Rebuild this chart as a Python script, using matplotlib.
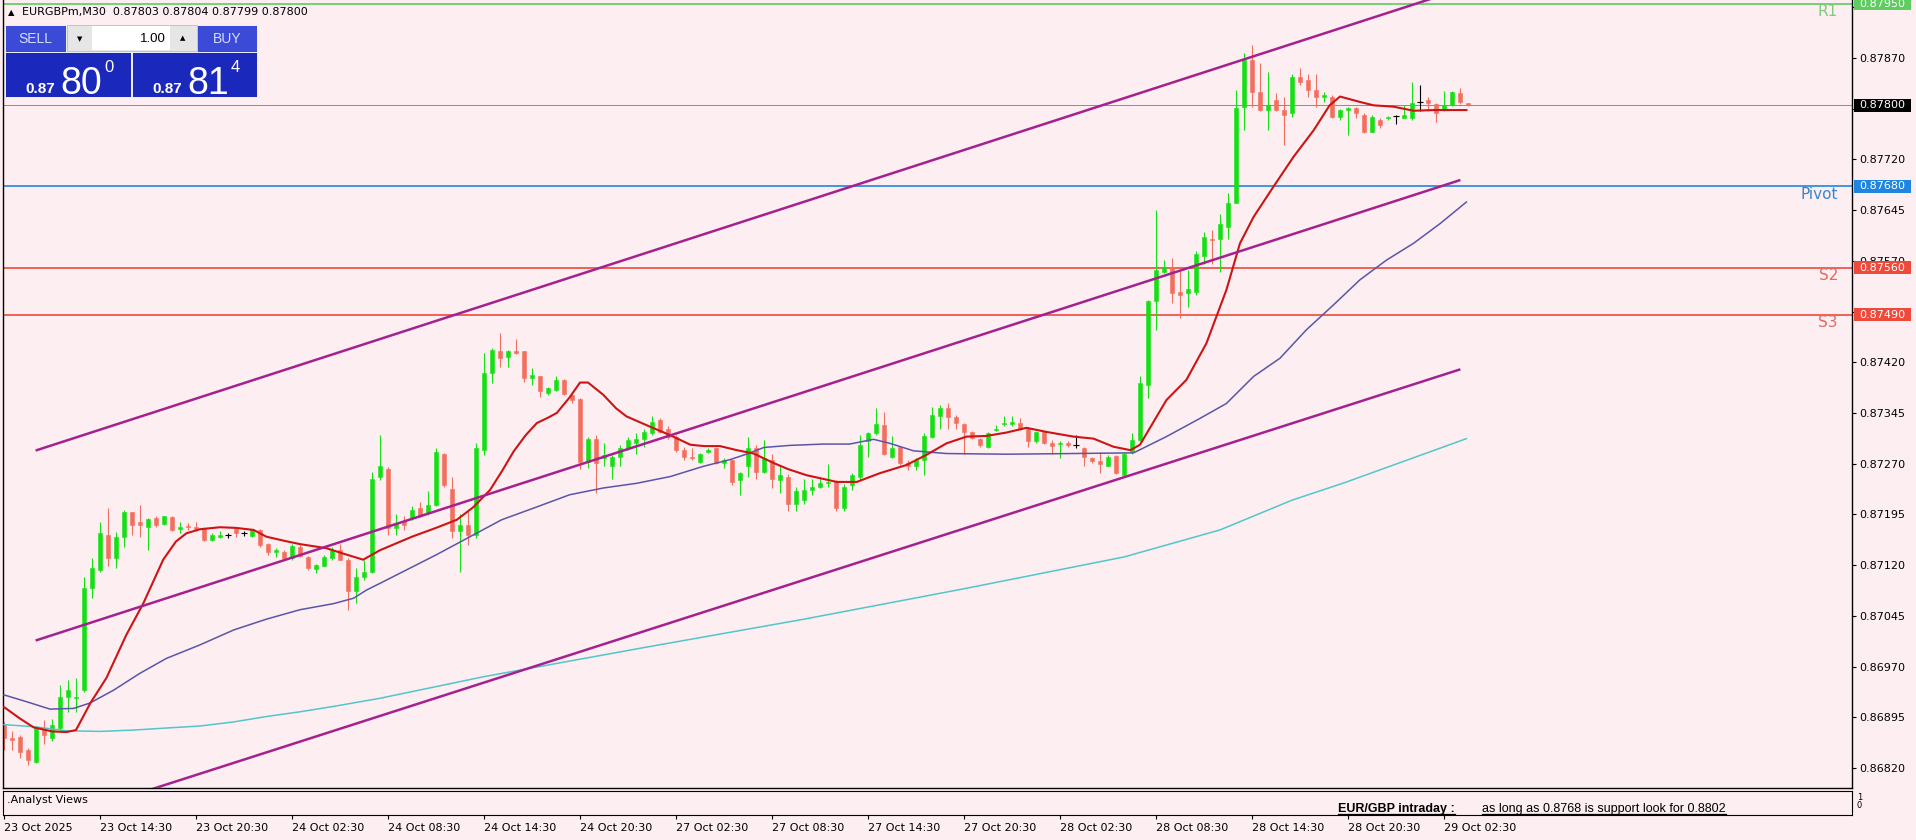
import numpy as np
import matplotlib
matplotlib.use('Agg')
import matplotlib.pyplot as plt
from matplotlib.patches import Rectangle

plt.rcParams['font.family'] = ['DejaVu Sans']

# EURGBPm M30 candles, 23 Oct 08:30 -> 29 Oct 04:00
opens = [0.86884, 0.86864, 0.86866, 0.86847, 0.86829, 0.86877, 0.86864, 0.86879, 0.86925, 0.86923,
         0.86935, 0.87086, 0.87113, 0.87165, 0.87130, 0.87162, 0.87198, 0.87183, 0.87177, 0.87190,
         0.87181, 0.87191, 0.87173, 0.87178, 0.87177, 0.87174, 0.87157, 0.87162, 0.87165, 0.87174,
         0.87167, 0.87163, 0.87172, 0.87151, 0.87140, 0.87140, 0.87130, 0.87147, 0.87132, 0.87114,
         0.87119, 0.87130, 0.87142, 0.87128, 0.87081, 0.87102, 0.87110, 0.87251, 0.87262, 0.87175,
         0.87185, 0.87189, 0.87204, 0.87197, 0.87209, 0.87285, 0.87233, 0.87170, 0.87180, 0.87165,
         0.87290, 0.87404, 0.87436, 0.87428, 0.87436, 0.87436, 0.87396, 0.87399, 0.87374, 0.87379,
         0.87394, 0.87372, 0.87365, 0.87272, 0.87307, 0.87278, 0.87266, 0.87280, 0.87293, 0.87300,
         0.87307, 0.87315, 0.87335, 0.87322, 0.87310, 0.87290, 0.87280, 0.87273, 0.87288, 0.87293,
         0.87271, 0.87276, 0.87246, 0.87266, 0.87293, 0.87258, 0.87276, 0.87246, 0.87251, 0.87210,
         0.87216, 0.87231, 0.87235, 0.87242, 0.87245, 0.87205, 0.87238, 0.87251, 0.87303, 0.87315,
         0.87327, 0.87280, 0.87294, 0.87271, 0.87266, 0.87275, 0.87310, 0.87340, 0.87353, 0.87339,
         0.87329, 0.87317, 0.87306, 0.87295, 0.87320, 0.87329, 0.87329, 0.87330, 0.87322, 0.87303,
         0.87317, 0.87301, 0.87299, 0.87300, 0.87297, 0.87293, 0.87279, 0.87274, 0.87267, 0.87281,
         0.87253, 0.87288, 0.87305, 0.87386, 0.87510, 0.87554, 0.87561, 0.87524, 0.87522, 0.87524,
         0.87577, 0.87603, 0.87602, 0.87620, 0.87656, 0.87798, 0.87867, 0.87820, 0.87793, 0.87808,
         0.87793, 0.87788, 0.87842, 0.87837, 0.87823, 0.87813, 0.87813, 0.87783, 0.87793, 0.87796,
         0.87786, 0.87761, 0.87778, 0.87781, 0.87784, 0.87782, 0.87781, 0.87805, 0.87808, 0.87802,
         0.87793, 0.87800, 0.87818, 0.87803]
highs = [0.86888, 0.86874, 0.86869, 0.86849, 0.86881, 0.86891, 0.86893, 0.86943, 0.86950, 0.86953,
         0.87103, 0.87130, 0.87184, 0.87204, 0.87169, 0.87201, 0.87199, 0.87209, 0.87189, 0.87192,
         0.87193, 0.87192, 0.87184, 0.87182, 0.87183, 0.87177, 0.87167, 0.87171, 0.87167, 0.87177,
         0.87171, 0.87174, 0.87174, 0.87153, 0.87145, 0.87142, 0.87151, 0.87150, 0.87133, 0.87122,
         0.87135, 0.87147, 0.87151, 0.87130, 0.87115, 0.87127, 0.87258, 0.87312, 0.87265, 0.87195,
         0.87192, 0.87208, 0.87214, 0.87229, 0.87293, 0.87286, 0.87251, 0.87195, 0.87200, 0.87300,
         0.87433, 0.87441, 0.87463, 0.87438, 0.87455, 0.87437, 0.87411, 0.87400, 0.87384, 0.87399,
         0.87395, 0.87373, 0.87367, 0.87310, 0.87312, 0.87300, 0.87283, 0.87298, 0.87310, 0.87315,
         0.87322, 0.87340, 0.87337, 0.87325, 0.87312, 0.87295, 0.87293, 0.87286, 0.87293, 0.87294,
         0.87278, 0.87277, 0.87258, 0.87310, 0.87298, 0.87305, 0.87285, 0.87268, 0.87255, 0.87236,
         0.87248, 0.87248, 0.87251, 0.87270, 0.87246, 0.87240, 0.87256, 0.87312, 0.87317, 0.87352,
         0.87347, 0.87311, 0.87295, 0.87276, 0.87278, 0.87315, 0.87354, 0.87357, 0.87359, 0.87342,
         0.87330, 0.87319, 0.87308, 0.87317, 0.87327, 0.87340, 0.87340, 0.87337, 0.87324, 0.87318,
         0.87318, 0.87305, 0.87303, 0.87303, 0.87312, 0.87295, 0.87280, 0.87288, 0.87283, 0.87283,
         0.87288, 0.87316, 0.87399, 0.87512, 0.87645, 0.87571, 0.87574, 0.87556, 0.87556, 0.87584,
         0.87613, 0.87616, 0.87640, 0.87670, 0.87823, 0.87877, 0.87889, 0.87862, 0.87850, 0.87818,
         0.87813, 0.87847, 0.87855, 0.87847, 0.87847, 0.87820, 0.87815, 0.87795, 0.87798, 0.87797,
         0.87788, 0.87786, 0.87781, 0.87784, 0.87786, 0.87800, 0.87835, 0.87830, 0.87813, 0.87804,
         0.87821, 0.87821, 0.87825, 0.87804]
lows = [0.86847, 0.86847, 0.86834, 0.86824, 0.86827, 0.86856, 0.86860, 0.86876, 0.86903, 0.86903,
        0.86933, 0.87071, 0.87110, 0.87118, 0.87115, 0.87147, 0.87165, 0.87162, 0.87142, 0.87177,
        0.87179, 0.87171, 0.87167, 0.87172, 0.87171, 0.87155, 0.87155, 0.87160, 0.87160, 0.87161,
        0.87163, 0.87161, 0.87147, 0.87135, 0.87132, 0.87128, 0.87128, 0.87132, 0.87113, 0.87108,
        0.87118, 0.87128, 0.87128, 0.87054, 0.87064, 0.87098, 0.87108, 0.87246, 0.87165, 0.87165,
        0.87172, 0.87187, 0.87191, 0.87194, 0.87207, 0.87236, 0.87160, 0.87110, 0.87150, 0.87160,
        0.87283, 0.87389, 0.87413, 0.87413, 0.87432, 0.87391, 0.87386, 0.87369, 0.87372, 0.87378,
        0.87372, 0.87360, 0.87262, 0.87263, 0.87226, 0.87266, 0.87248, 0.87266, 0.87290, 0.87285,
        0.87295, 0.87312, 0.87315, 0.87307, 0.87288, 0.87275, 0.87275, 0.87271, 0.87286, 0.87270,
        0.87263, 0.87238, 0.87224, 0.87251, 0.87248, 0.87256, 0.87234, 0.87226, 0.87200, 0.87200,
        0.87211, 0.87224, 0.87234, 0.87236, 0.87200, 0.87200, 0.87231, 0.87246, 0.87280, 0.87312,
        0.87283, 0.87278, 0.87268, 0.87261, 0.87261, 0.87253, 0.87308, 0.87322, 0.87322, 0.87322,
        0.87285, 0.87306, 0.87295, 0.87293, 0.87318, 0.87325, 0.87325, 0.87320, 0.87295, 0.87301,
        0.87299, 0.87285, 0.87278, 0.87295, 0.87293, 0.87266, 0.87271, 0.87256, 0.87266, 0.87255,
        0.87251, 0.87285, 0.87303, 0.87367, 0.87468, 0.87552, 0.87507, 0.87485, 0.87502, 0.87519,
        0.87566, 0.87566, 0.87554, 0.87603, 0.87655, 0.87764, 0.87798, 0.87791, 0.87764, 0.87791,
        0.87741, 0.87783, 0.87830, 0.87813, 0.87798, 0.87805, 0.87781, 0.87778, 0.87756, 0.87781,
        0.87759, 0.87761, 0.87767, 0.87779, 0.87773, 0.87781, 0.87778, 0.87791, 0.87791, 0.87776,
        0.87791, 0.87799, 0.87802, 0.87799]
closes = [0.86864, 0.86862, 0.86844, 0.86832, 0.86879, 0.86869, 0.86884, 0.86925, 0.86935, 0.86925,
          0.87086, 0.87115, 0.87167, 0.87130, 0.87162, 0.87199, 0.87179, 0.87179, 0.87188, 0.87179,
          0.87192, 0.87172, 0.87177, 0.87176, 0.87173, 0.87157, 0.87165, 0.87165, 0.87165, 0.87167,
          0.87167, 0.87172, 0.87150, 0.87140, 0.87142, 0.87130, 0.87148, 0.87133, 0.87115, 0.87120,
          0.87132, 0.87143, 0.87128, 0.87081, 0.87103, 0.87110, 0.87248, 0.87266, 0.87175, 0.87182,
          0.87180, 0.87201, 0.87192, 0.87209, 0.87288, 0.87238, 0.87170, 0.87180, 0.87165, 0.87293,
          0.87404, 0.87438, 0.87427, 0.87436, 0.87433, 0.87396, 0.87401, 0.87377, 0.87382, 0.87394,
          0.87373, 0.87364, 0.87272, 0.87307, 0.87271, 0.87283, 0.87280, 0.87293, 0.87305, 0.87307,
          0.87317, 0.87332, 0.87317, 0.87310, 0.87290, 0.87280, 0.87278, 0.87285, 0.87290, 0.87271,
          0.87276, 0.87243, 0.87256, 0.87293, 0.87258, 0.87278, 0.87248, 0.87253, 0.87210, 0.87229,
          0.87231, 0.87235, 0.87242, 0.87243, 0.87205, 0.87236, 0.87253, 0.87298, 0.87315, 0.87328,
          0.87285, 0.87293, 0.87271, 0.87266, 0.87276, 0.87311, 0.87342, 0.87352, 0.87339, 0.87330,
          0.87317, 0.87308, 0.87298, 0.87316, 0.87322, 0.87330, 0.87331, 0.87322, 0.87303, 0.87317,
          0.87300, 0.87296, 0.87300, 0.87297, 0.87297, 0.87280, 0.87274, 0.87270, 0.87280, 0.87256,
          0.87285, 0.87305, 0.87389, 0.87510, 0.87556, 0.87560, 0.87522, 0.87519, 0.87528, 0.87580,
          0.87605, 0.87601, 0.87624, 0.87655, 0.87796, 0.87867, 0.87820, 0.87793, 0.87800, 0.87793,
          0.87786, 0.87842, 0.87835, 0.87823, 0.87813, 0.87815, 0.87783, 0.87793, 0.87796, 0.87788,
          0.87761, 0.87783, 0.87771, 0.87783, 0.87784, 0.87786, 0.87803, 0.87805, 0.87803, 0.87789,
          0.87800, 0.87819, 0.87805, 0.87800]

# moving averages, sampled along the drawn lines (bar index, price)
fast_idx = [0, 2, 3.7, 6, 7.8, 9, 10.8, 12.8, 15.3, 17.4, 19.9, 21.5, 22.8, 24.5, 27, 29, 31.2, 32.8,
            35, 37, 40.3, 42.4, 44.9, 47, 49, 51, 54, 56.6, 58.7, 60.75, 62.3, 63.7, 65.2, 66.6, 68,
            69.1, 70.7, 72, 73, 74.9, 76.5, 77.8, 80.7, 83.3, 85.8, 87.5, 89.5, 91.6, 93.7, 96.2, 98,
            100.3, 104.1, 106.6, 109.5, 112.8, 115.3, 117.8, 120.3, 122.8, 125.3, 127.8, 130.3, 133.7,
            136.2, 138.7, 140.8, 142, 143.7, 145.3, 147.8, 150.3, 152.8, 154.5, 156.2, 158.7, 161.2,
            163.7, 165.7, 167, 169.5, 171.2, 173.7, 176.2, 178.7, 180.75, 182.8]
fast_ma = [0.86910, 0.86893, 0.86880, 0.86874, 0.86873, 0.86876, 0.86916, 0.86953, 0.87017, 0.87063,
           0.87128, 0.87155, 0.87167, 0.87173, 0.87176, 0.87175, 0.87172, 0.87162, 0.87156, 0.87151,
           0.87145, 0.87137, 0.87128, 0.87142, 0.87152, 0.87162, 0.87175, 0.87187, 0.87206, 0.87231,
           0.87260, 0.87288, 0.87312, 0.87330, 0.87338, 0.87345, 0.87368, 0.87390, 0.87390, 0.87372,
           0.87352, 0.87340, 0.87325, 0.87312, 0.87298, 0.87296, 0.87296, 0.87290, 0.87285, 0.87271,
           0.87262, 0.87253, 0.87243, 0.87243, 0.87256, 0.87268, 0.87283, 0.87300, 0.87310, 0.87311,
           0.87316, 0.87323, 0.87317, 0.87310, 0.87307, 0.87295, 0.87290, 0.87298, 0.87332, 0.87364,
           0.87394, 0.87448, 0.87527, 0.87596, 0.87635, 0.87680, 0.87724, 0.87763, 0.87800, 0.87813,
           0.87805, 0.87800, 0.87798, 0.87792, 0.87793, 0.87793, 0.87793]
mid_idx = [0, 2.8, 5.75, 8.7, 10.75, 13.7, 17, 20.3, 24.5, 28.7, 32.8, 37, 41.2, 43.7, 45.3, 47, 54,
           62.2, 66.6, 70.7, 74.9, 79.1, 83.3, 87.4, 90.75, 92.8, 95, 98.2, 102.4, 105.7, 108.7, 110.75,
           113.7, 117.8, 125.3, 133.7, 141.2, 145.3, 149.5, 152.8, 156.2, 159.5, 162.8, 166.2, 169.5,
           172.8, 176.2, 179.5, 182.8]
mid_ma = [0.86928, 0.86918, 0.86907, 0.86908, 0.86916, 0.86935, 0.86960, 0.86982, 0.87002, 0.87024,
          0.87040, 0.87054, 0.87063, 0.87071, 0.87083, 0.87093, 0.87135, 0.87187, 0.87206, 0.87224,
          0.87234, 0.87241, 0.87251, 0.87266, 0.87276, 0.87284, 0.87294, 0.87297, 0.87299, 0.87299,
          0.87306, 0.87300, 0.87289, 0.87285, 0.87284, 0.87285, 0.87286, 0.87310, 0.87337, 0.87359,
          0.87399, 0.87426, 0.87468, 0.87505, 0.87542, 0.87571, 0.87596, 0.87625, 0.87657]
slow_idx = [0, 3.7, 7.8, 12, 16.2, 20.3, 24.5, 28.7, 32.8, 37, 41.2, 47, 60, 80, 100, 120, 140, 152,
            161, 167.6, 182.8]
slow_ma = [0.86884, 0.86881, 0.86875, 0.86874, 0.86876, 0.86879, 0.86882, 0.86888, 0.86896, 0.86903,
           0.86911, 0.86923, 0.86955, 0.86998, 0.87040, 0.87085, 0.87132, 0.87172, 0.87216, 0.87242,
           0.87307]

# regression channel (start/end bar, price at ends)
chan_ends = [4.1, 181.9]
chan_upper = [0.87290, 0.87971]
chan_mid = [0.87009, 0.87689]
chan_lower = [0.86734, 0.87409]

# pivot levels
level_names = ['R1', 'Pivot', 'S2', 'S3']
level_values = [0.87950, 0.87680, 0.87560, 0.87490]
level_colors = ['#5fcc5f', '#1e86e0', '#ee4a3c', '#ee4a3c']
level_text = ['#7ccc7c', '#3a86cc', '#e06a62', '#e06a62']
last_price = 0.87800

price_ticks = [0.86820, 0.86895, 0.86970, 0.87045, 0.87120, 0.87195, 0.87270, 0.87345, 0.87420,
               0.87495, 0.87570, 0.87645, 0.87720, 0.87795, 0.87870, 0.87945]
# labels sitting under the R1 / last price tags are not visible on the chart
hidden_ticks = [0.87795, 0.87945]
date_ticks = [0, 12, 24, 36, 48, 60, 72, 84, 96, 108, 120, 132, 144, 156, 168, 180]
date_labels = ['23 Oct 2025', '23 Oct 14:30', '23 Oct 20:30', '24 Oct 02:30', '24 Oct 08:30',
               '24 Oct 14:30', '24 Oct 20:30', '27 Oct 02:30', '27 Oct 08:30', '27 Oct 14:30',
               '27 Oct 20:30', '28 Oct 02:30', '28 Oct 08:30', '28 Oct 14:30', '28 Oct 20:30',
               '29 Oct 02:30']

BG = '#fdeef2'
BULL = '#14e014'
BEAR = '#f26e5e'
W, H = 1916, 840


def rect(l, t, r, b):
    return [l / W, 1 - b / H, (r - l) / W, (b - t) / H]


fig = plt.figure(figsize=(W / 100, H / 100), dpi=100, facecolor=BG)
ax = fig.add_axes(rect(3, 0, 1852, 788), facecolor=BG)
sub = fig.add_axes(rect(3, 791, 1852, 815), facecolor=BG)

o = np.array(opens)
h = np.array(highs)
l = np.array(lows)
c = np.array(closes)
x = np.arange(len(o))
doji = np.abs(c - o) < 5e-6
col = np.where(c > o, BULL, BEAR).astype(object)
col[doji] = 'black'

ax.vlines(x, l, h, colors=list(col), lw=0.8, zorder=2)
nd = ~doji
ax.bar(x[nd], np.abs(c - o)[nd], bottom=np.minimum(o, c)[nd], width=0.62,
       color=list(col[nd]), edgecolor=list(col[nd]), lw=0.4, zorder=2)
ax.hlines(o[doji], x[doji] - 0.35, x[doji] + 0.35, colors='black', lw=0.8, zorder=2)

ax.plot(slow_idx, slow_ma, color='#52c6c8', lw=1.1, zorder=3)
ax.plot(mid_idx, mid_ma, color='#5a55a8', lw=1.1, zorder=3)
ax.plot(fast_idx, fast_ma, color='#cc1414', lw=1.5, zorder=3, solid_joinstyle='round')
for ch in (chan_upper, chan_mid, chan_lower):
    ax.plot(chan_ends, ch, color='#a3228f', lw=1.8, zorder=3)

for val, lc in zip(level_values, level_colors):
    ax.axhline(val, color=lc, lw=1.2, zorder=1)
ax.axhline(last_price, color='#8c8c8c', lw=0.7, zorder=1)

ax.set_xlim(-0.125, 231)
ax.set_ylim(0.867903, 0.879558)
ax.set_xticks([])
ax.yaxis.tick_right()
ax.set_yticks(price_ticks)
ax.set_yticklabels(['' if v in hidden_ticks else f'{v:.5f}' for v in price_ticks])
ax.tick_params(axis='y', labelsize=8, length=3, pad=2, width=0.8)
ax.spines['top'].set_visible(False)
for s in ('left', 'right', 'bottom'):
    ax.spines[s].set_linewidth(1.0)

sub.set_xlim(-0.125, 231)
sub.set_ylim(0, 1)
sub.set_yticks([])
sub.set_xticks(date_ticks)
sub.set_xticklabels(date_labels, ha='left')
sub.tick_params(axis='x', labelsize=8, length=3, pad=3, width=0.8)
sub.text(0.002, 0.62, '.Analyst Views', transform=sub.transAxes, fontsize=8, va='center')
t1 = sub.text(0, 0, 'EUR/GBP intraday :', fontsize=9, va='baseline',
              fontweight='bold', family='Liberation Sans', clip_on=True)
t2 = sub.text(0, 0, 'as long as 0.8768 is support look for 0.8802', fontsize=9,
              va='baseline', family='Liberation Sans', clip_on=True)

# overlay in pixel coordinates for the trade panel and the level tags
ov = fig.add_axes([0, 0, 1, 1], zorder=10)
ov.set_xlim(0, W)
ov.set_ylim(H, 0)
ov.axis('off')

# place the analyst text by pixel position
for t, px in ((t1, 1338), (t2, 1482)):
    t.set_transform(ov.transData)
    t.set_position((px, 812))
    t.set_clip_box(sub.bbox)

fig.canvas.draw()
r = fig.canvas.get_renderer()
for t in (t1, t2):
    bb = t.get_window_extent(r)
    ov.plot([bb.x0, bb.x1], [814, 814], color='black', lw=0.9, clip_on=True,
            clip_box=sub.bbox)


def ypix(v):
    return H - ax.transData.transform((0, v))[1]


for name, val, lc, tc in zip(level_names, level_values, level_colors, level_text):
    yp = ypix(val)
    ov.add_patch(Rectangle((1854, yp - 6.5), 57, 13, fc=lc, ec='none'))
    ov.text(1882, yp, f'{val:.5f}', color='white', fontsize=8, ha='center', va='center')
    ov.text(1838, yp + 0.5, name, color=tc, fontsize=11, ha='right', va='top')
yp = ypix(last_price)
ov.add_patch(Rectangle((1854, yp - 6.5), 57, 13, fc='black', ec='none'))
ov.text(1882, yp, f'{last_price:.5f}', color='white', fontsize=8, ha='center', va='center')

ov.text(1857, 797, '1', fontsize=6, va='center')
ov.text(1857, 806, '0', fontsize=6, va='center')

# header
ov.text(8, 12.5, '\u25b2', fontsize=6, va='center')
ov.text(22, 12.5, 'EURGBPm,M30  0.87803 0.87804 0.87799 0.87800', fontsize=8, va='center')

# one-click trading panel
ov.add_patch(Rectangle((5, 25), 61, 27, fc='#3b4bd8', ec='white', lw=0.6))
ov.add_patch(Rectangle((197, 25), 60, 27, fc='#3b4bd8', ec='white', lw=0.6))
ov.add_patch(Rectangle((67, 25), 130, 26, fc='#e6e6e6', ec='#bdbdbd', lw=0.6))
ov.add_patch(Rectangle((92, 26), 78, 24, fc='white', ec='none'))
ov.add_patch(Rectangle((5, 52), 126, 45, fc='#1a28bc', ec='white', lw=0.6))
ov.add_patch(Rectangle((132, 52), 125, 45, fc='#1a28bc', ec='white', lw=0.6))
ov.text(35, 39, 'SELL', color='#d6dcff', fontsize=10, ha='center', va='center', family='Liberation Sans')
ov.text(227, 39, 'BUY', color='#d6dcff', fontsize=10, ha='center', va='center', family='Liberation Sans')
ov.text(80, 39, '\u25bc', fontsize=5, ha='center', va='center')
ov.text(183, 38, '\u25b2', fontsize=5, ha='center', va='center')
ov.text(166, 39, '1.00', fontsize=9.5, ha='right', va='center', family='Liberation Sans')
for x0, big, sup in ((25, '80', '0'), (152, '81', '4')):
    ov.text(x0, 93, '0.87', color='white', fontsize=11, fontweight='bold', va='baseline',
            family='Liberation Sans')
    ov.text(x0 + 35, 94, big, color='white', fontsize=27, va='baseline', family='Liberation Sans')
    ov.text(x0 + 79, 72, sup, color='white', fontsize=12, va='baseline', family='Liberation Sans')

fig.savefig('out.png', dpi=100, facecolor=BG)
